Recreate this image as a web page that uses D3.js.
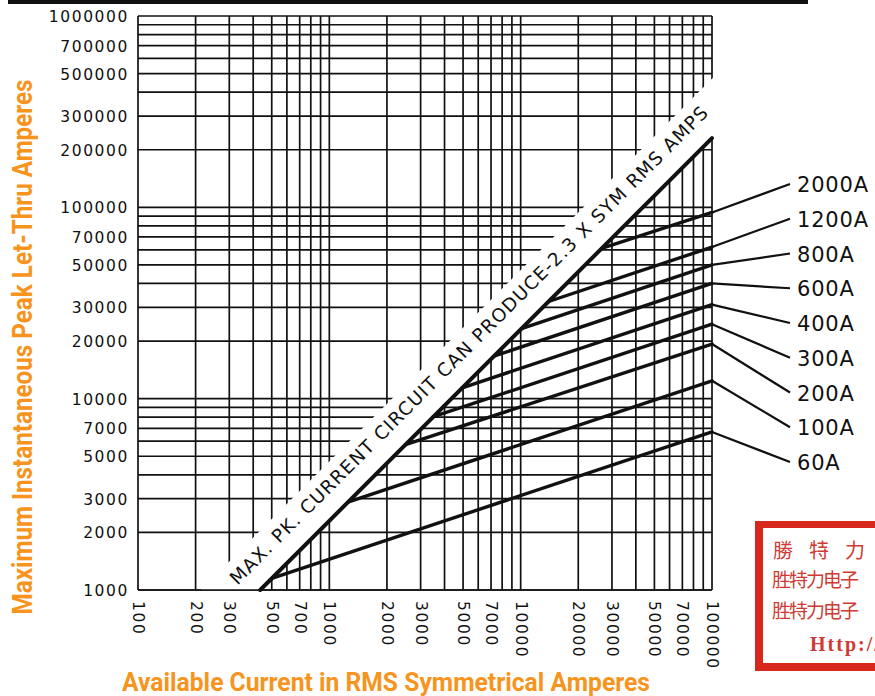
<!DOCTYPE html>
<html>
<head>
<meta charset="utf-8">
<script src="https://cdn.jsdelivr.net/npm/d3@7"></script>
<style>
  html, body { margin: 0; padding: 0; background: #fff; }
  svg { display: block; }
</style>
</head>
<body>
<script>
// Fuse let-through data
const fuseRatings = ["60A", "100A", "200A", "300A", "400A", "600A", "800A", "1200A", "2000A"];
const startAmps = [500, 1250, 2500, 3500, 4950, 7250, 10100, 14000, 26500];   // where each curve leaves the max-peak line
const startPeak = [1150, 2880, 5750, 8050, 11400, 16700, 23200, 32200, 61000];
const endPeak = [6700, 12400, 19300, 24500, 31000, 40000, 50000, 62000, 94000]; // at 100000 A

// Max peak line (2.3 x sym RMS amps)
const maxPeakAmps = [435, 100000];
const maxPeakPeak = [1000, 230000];

const xTicks = [100, 200, 300, 500, 700, 1000, 2000, 3000, 5000, 7000, 10000, 20000, 30000, 50000, 70000, 100000];
const yTicks = [1000000, 700000, 500000, 300000, 200000, 100000, 70000, 50000, 30000, 20000, 10000, 7000, 5000, 3000, 2000, 1000];

const width = 875, height = 696;
const plot = { left: 138, top: 16, right: 712, bottom: 590 };

const svg = d3.select("body").append("svg")
  .attr("width", width)
  .attr("height", height)
  .attr("viewBox", [0, 0, width, height]);

const x = d3.scaleLog().domain([100, 100000]).range([plot.left, plot.right]);
const y = d3.scaleLog().domain([1000, 1000000]).range([plot.bottom, plot.top]);

// top black bar
svg.append("rect").attr("x", 8).attr("y", 0).attr("width", 800).attr("height", 4).attr("fill", "#111");

// grid: every 1..9 in each decade
const gridVals = (lo, hi) => {
  const out = [];
  for (let d = lo; d < hi; d *= 10) for (let m = 1; m < 10; m++) out.push(d * m);
  out.push(hi);
  return out;
};

const gGrid = svg.append("g").attr("stroke", "#111").attr("stroke-width", 1.7);
gGrid.selectAll("line.v").data(gridVals(100, 100000)).join("line")
  .attr("class", "v")
  .attr("x1", d => x(d)).attr("x2", d => x(d))
  .attr("y1", plot.top).attr("y2", plot.bottom);
gGrid.selectAll("line.h").data(gridVals(1000, 1000000)).join("line")
  .attr("class", "h")
  .attr("x1", plot.left).attr("x2", plot.right)
  .attr("y1", d => y(d)).attr("y2", d => y(d));

// white band above the max-peak line for its caption
const p0 = [x(maxPeakAmps[0]), y(maxPeakPeak[0])];
const p1 = [x(maxPeakAmps[1]), y(maxPeakPeak[1])];
const len = Math.hypot(p1[0] - p0[0], p1[1] - p0[1]);
const dir = [(p1[0] - p0[0]) / len, (p1[1] - p0[1]) / len];
const nrm = [dir[1], -dir[0]]; // points up-left
const bandW = 42, ext = 80;
const a = [p0[0] - dir[0] * ext, p0[1] - dir[1] * ext];
const b = [p1[0] + dir[0] * ext, p1[1] + dir[1] * ext];

svg.append("clipPath").attr("id", "plotClip")
  .append("rect").attr("x", plot.left + 1).attr("y", plot.top - 2)
  .attr("width", plot.right - plot.left + 2).attr("height", plot.bottom - plot.top + 2);

svg.append("polygon")
  .attr("clip-path", "url(#plotClip)")
  .attr("fill", "#fff")
  .attr("points", [a, b,
    [b[0] + nrm[0] * bandW, b[1] + nrm[1] * bandW],
    [a[0] + nrm[0] * bandW, a[1] + nrm[1] * bandW]].map(p => p.join(",")).join(" "));

// bottom border on top of the band
svg.append("line")
  .attr("x1", plot.left).attr("x2", plot.right)
  .attr("y1", y(1000)).attr("y2", y(1000))
  .attr("stroke", "#111").attr("stroke-width", 1.7);

// max-peak line
svg.append("line")
  .attr("x1", p0[0]).attr("y1", p0[1]).attr("x2", p1[0]).attr("y2", p1[1])
  .attr("stroke", "#111").attr("stroke-width", 4).attr("stroke-linecap", "round");

// caption along the max-peak line
const capStart = -13, capOff = 19;
const cp = [p0[0] + dir[0] * capStart + nrm[0] * capOff, p0[1] + dir[1] * capStart + nrm[1] * capOff];
const ang = Math.atan2(dir[1], dir[0]) * 180 / Math.PI;
svg.append("text")
  .attr("transform", `translate(${cp[0]},${cp[1]}) rotate(${ang})`)
  .attr("font-family", "DejaVu Sans, sans-serif")
  .attr("font-size", 18.5)
  .attr("fill", "#111")
  .attr("textLength", 667)
  .attr("lengthAdjust", "spacing")
  .text("MAX. PK. CURRENT CIRCUIT CAN PRODUCE-2.3 X SYM RMS AMPS");

// fuse curves and leaders
const labelTop = 184, labelBottom = 462;
const labelY = d3.scalePoint().domain(fuseRatings).range([labelBottom, labelTop]);
const leaderX = 790;

const gFuse = svg.append("g");
fuseRatings.forEach((r, i) => {
  gFuse.append("line")
    .attr("x1", x(startAmps[i])).attr("y1", y(startPeak[i]))
    .attr("x2", x(100000)).attr("y2", y(endPeak[i]))
    .attr("stroke", "#111").attr("stroke-width", 3.4).attr("stroke-linecap", "round");
  gFuse.append("line")
    .attr("x1", x(100000)).attr("y1", y(endPeak[i]))
    .attr("x2", leaderX).attr("y2", labelY(r))
    .attr("stroke", "#111").attr("stroke-width", 2.2);
  gFuse.append("text")
    .attr("x", 797).attr("y", labelY(r) + 1)
    .attr("dominant-baseline", "central")
    .attr("font-family", "DejaVu Sans, sans-serif")
    .attr("font-size", 21)
    .attr("letter-spacing", 0.8)
    .attr("fill", "#111")
    .text(r);
});

// y tick labels
svg.append("g").selectAll("text").data(yTicks).join("text")
  .attr("x", 129).attr("y", d => y(d) + 1)
  .attr("text-anchor", "end")
  .attr("dominant-baseline", "central")
  .attr("font-family", "DejaVu Sans, sans-serif")
  .attr("font-size", 15.5)
  .attr("letter-spacing", 1.6)
  .attr("fill", "#111")
  .text(d => d);

// x tick labels (rotated, reading downward)
svg.append("g").selectAll("text").data(xTicks).join("text")
  .attr("transform", d => `translate(${x(d)},601) rotate(90)`)
  .attr("dominant-baseline", "central")
  .attr("font-family", "DejaVu Sans, sans-serif")
  .attr("font-size", 15.5)
  .attr("letter-spacing", 1.6)
  .attr("fill", "#111")
  .text(d => d);

// axis titles
const orange = "#f7941d";
svg.append("text")
  .attr("x", 386).attr("y", 691)
  .attr("text-anchor", "middle")
  .attr("font-family", "'Liberation Sans Narrow', 'Roboto', sans-serif")
  .attr("font-weight", "bold")
  .attr("font-size", 26)
  .attr("fill", orange)
  .attr("textLength", 528)
  .attr("lengthAdjust", "spacingAndGlyphs")
  .text("Available Current in RMS Symmetrical Amperes");

svg.append("text")
  .attr("transform", "translate(32,347) rotate(-90)")
  .attr("text-anchor", "middle")
  .attr("font-family", "'Liberation Sans Narrow', 'Roboto', sans-serif")
  .attr("font-weight", "bold")
  .attr("font-size", 27)
  .attr("fill", orange)
  .attr("textLength", 535)
  .attr("lengthAdjust", "spacingAndGlyphs")
  .text("Maximum Instantaneous Peak Let-Thru Amperes");

// red stamp, bottom right
const stamp = svg.append("g");
stamp.append("rect").attr("x", 755).attr("y", 521).attr("width", 140).attr("height", 150).attr("fill", "#d8281e");
stamp.append("rect").attr("x", 763).attr("y", 528).attr("width", 140).attr("height", 135).attr("fill", "#fff");
stamp.append("text").attr("x", 773).attr("y", 558)
  .attr("font-family", "'Noto Sans CJK TC', 'Noto Sans CJK SC', serif").attr("font-size", 20).attr("letter-spacing", 16)
  .attr("fill", "#cf3a34").text("勝特力");
stamp.append("text").attr("x", 772).attr("y", 587)
  .attr("font-family", "'Noto Sans CJK SC', serif").attr("font-size", 19).attr("letter-spacing", -2)
  .attr("fill", "#cf3a34").text("胜特力电子");
stamp.append("text").attr("x", 772).attr("y", 618)
  .attr("font-family", "'Noto Sans CJK SC', serif").attr("font-size", 19).attr("letter-spacing", -2)
  .attr("fill", "#cf3a34").text("胜特力电子");
stamp.append("text").attr("x", 810).attr("y", 651)
  .attr("font-family", "'Liberation Serif', serif").attr("font-weight", "bold").attr("font-size", 20)
  .attr("letter-spacing", 2)
  .attr("fill", "#cf3a34").text("Http://");
</script>
</body>
</html>
